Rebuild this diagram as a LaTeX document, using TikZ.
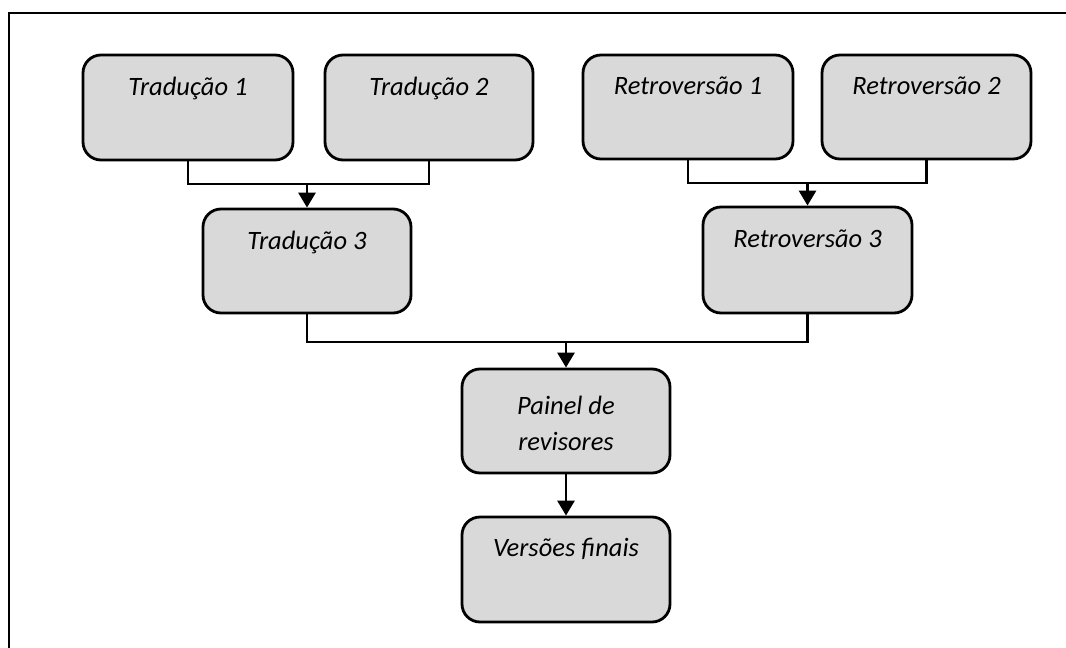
\documentclass[tikz,border=0pt]{standalone}
\usepackage{fontspec}
\setmainfont{Carlito}
\usetikzlibrary{arrows.meta}
\definecolor{boxgray}{RGB}{217,217,217}
\tikzset{
  stagebox/.style={draw=black, line width=2.8pt, fill=boxgray, rounded corners=18pt,
    minimum width=208pt, minimum height=104pt, inner sep=0pt},
  lbl/.style={anchor=base, font=\fontsize{26.5}{36}\selectfont\itshape, inner sep=0pt, align=center},
  conn/.style={line width=2.8pt},
  arr/.style={line width=2.8pt, -{Triangle[width=17pt,length=15pt]}},
}
\begin{document}
\begin{tikzpicture}[x=1pt,y=-1pt]
\useasboundingbox (0,0) rectangle (1066,648);
% frame
\coordinate (fr) at (1066,13);
\coordinate (fc) at (9,13);
\coordinate (fb) at (9,648);
\draw[line width=2.8pt] (fr) -- (fc) -- (fb);
% boxes
\node[stagebox, minimum width=210pt, minimum height=105pt] (t1) at (188,107.5) {};
\node[stagebox, minimum width=208pt, minimum height=105pt] (t2) at (429,107.5) {};
\node[stagebox, minimum width=210pt, minimum height=104pt] (r1) at (688,107) {};
\node[stagebox, minimum width=209pt, minimum height=104pt] (r2) at (926.5,107) {};
\node[stagebox, minimum width=208pt, minimum height=104pt] (t3) at (307,261) {};
\node[stagebox, minimum width=209pt, minimum height=106pt] (r3) at (807.5,260) {};
\node[stagebox, minimum width=208pt, minimum height=104pt] (p) at (566,421) {};
\node[stagebox, minimum width=208pt, minimum height=105pt] (v) at (566,569.5) {};
% labels
\node[lbl] (t1l) at ([yshift=-42pt]t1.north) {Tradução 1};
\node[lbl] (t2l) at ([yshift=-42pt]t2.north) {Tradução 2};
\node[lbl] (r1l) at ([yshift=-41pt]r1.north) {Retroversão 1};
\node[lbl] (r2l) at ([yshift=-41pt]r2.north) {Retroversão 2};
\node[lbl] (t3l) at ([yshift=-42pt]t3.north) {Tradução 3};
\node[lbl] (r3l) at ([yshift=-42pt]r3.north) {Retroversão 3};
\node[lbl] (pl) at ([yshift=-83pt]p.north) {Painel de\\revisores};
\node[lbl] (vl) at ([yshift=-41pt]v.north) {Versões finais};
% connectors
\coordinate (j1) at (307,184);
\coordinate (j2) at (807.5,183);
\coordinate (j3) at (566,342);
\draw[conn] (t1.south) |- (j1) -| (t2.south);
\draw[arr] (j1) -- (t3.north);
\draw[conn] (r1.south) |- (j2) -| (r2.south);
\draw[arr] (j2) -- (r3.north);
\draw[conn] (t3.south) |- (j3) -| (r3.south);
\draw[arr] (j3) -- (p.north);
\draw[arr] (p.south) -- (v.north);
\end{tikzpicture}
\end{document}
